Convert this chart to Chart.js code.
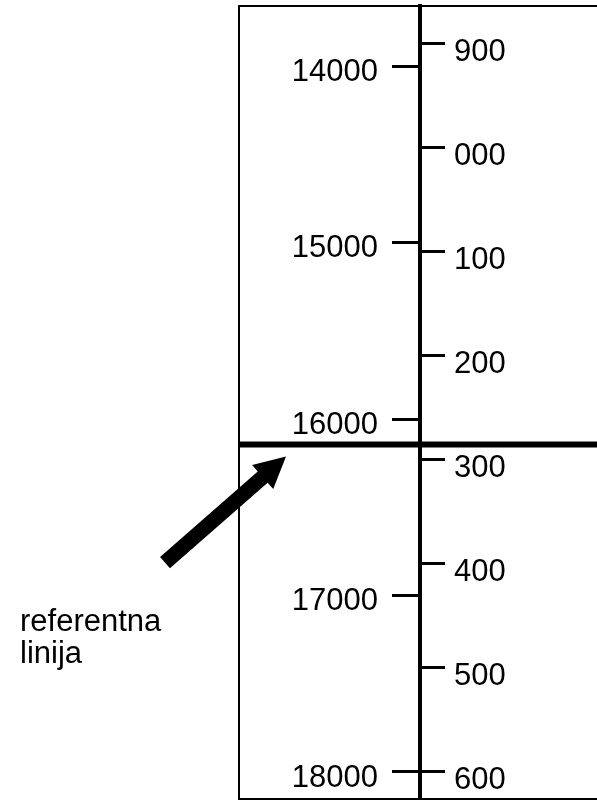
<!DOCTYPE html>
<html><head><meta charset="utf-8">
<script src="https://cdn.jsdelivr.net/npm/chart.js@4/dist/chart.umd.min.js"></script>
<style>html,body{margin:0;padding:0;background:#fff;} canvas{display:block;}</style>
</head><body>
<canvas id="c" width="597" height="801"></canvas>
<script>
// ---- data ----
const LEFT_TICKS = [14000, 15000, 16000, 17000, 18000];
const LEFT_LABELS = ['14000', '15000', '16000', '17000', '18000'];
const RIGHT_TICKS = [900, 1000, 1100, 1200, 1300, 1400, 1500, 1600];
const RIGHT_LABELS = ['900', '000', '100', '200', '300', '400', '500', '600'];
const LEFT_RANGE = [13660, 18153];
const RIGHT_RANGE = [863.5, 1626];
const REFERENCE_VALUE = 16145;          // on the left scale
const NOTE_LINES = ['referentna', 'linija'];

// ---- style ----
const FONT = "'Liberation Sans', Arial, Helvetica, sans-serif";
const FONT_SIZE = 31;
const INK = '#000';

const framePlugin = {
  id: 'frame',
  afterDraw(chart) {
    const ctx = chart.ctx;
    const yL = chart.scales.yL, yR = chart.scales.yR;
    const left = yL.left, right = yR.right, top = yL.top, bottom = yL.bottom;
    ctx.save();
    // outer frame (top, left, bottom)
    ctx.strokeStyle = INK;
    ctx.lineWidth = 2;
    ctx.beginPath();
    ctx.moveTo(right, top); ctx.lineTo(left, top);
    ctx.lineTo(left, bottom); ctx.lineTo(right, bottom);
    ctx.stroke();
    // reference line
    const refY = yL.getPixelForValue(REFERENCE_VALUE);
    ctx.lineWidth = 6;
    ctx.beginPath();
    ctx.moveTo(left, refY); ctx.lineTo(right, refY);
    ctx.stroke();
    // arrow pointing at the reference line
    const tip = {x: left + 47, y: refY + 12};
    const tail = {x: left - 74, y: refY + 118};
    const dx = tip.x - tail.x, dy = tip.y - tail.y, len = Math.hypot(dx, dy);
    const ux = dx / len, uy = dy / len, nx = -uy, ny = ux;
    const headLen = 31, headHalf = 16, shaftHalf = 7.5;
    const bx = tip.x - ux * headLen, by = tip.y - uy * headLen;
    ctx.fillStyle = INK;
    ctx.beginPath();
    ctx.moveTo(tail.x + nx * shaftHalf, tail.y + ny * shaftHalf);
    ctx.lineTo(bx + nx * shaftHalf, by + ny * shaftHalf);
    ctx.lineTo(bx + nx * headHalf, by + ny * headHalf);
    ctx.lineTo(tip.x, tip.y);
    ctx.lineTo(bx - nx * headHalf, by - ny * headHalf);
    ctx.lineTo(bx - nx * shaftHalf, by - ny * shaftHalf);
    ctx.lineTo(tail.x - nx * shaftHalf, tail.y - ny * shaftHalf);
    ctx.closePath();
    ctx.fill();
    // note text
    ctx.font = FONT_SIZE + 'px ' + FONT;
    ctx.textAlign = 'left';
    ctx.textBaseline = 'alphabetic';
    NOTE_LINES.forEach((t, i) => ctx.fillText(t, 20, refY + 186 + i * 32));
    ctx.restore();
  }
};

function axisOptions(position, range, ticks, labels, width, tickLen, pad, offset, border) {
  return {
    type: 'linear',
    position: position,
    reverse: true,
    min: range[0],
    max: range[1],
    afterBuildTicks: s => { s.ticks = ticks.map(v => ({value: v})); },
    afterFit: s => { s.width = width; s.paddingTop = 0; s.paddingBottom = 0; },
    border: {display: border, color: INK, width: 4},
    grid: {drawOnChartArea: false, drawTicks: true, tickLength: tickLen, tickWidth: 3, tickColor: INK, color: INK},
    ticks: {
      autoSkip: false,
      padding: pad,
      labelOffset: offset,
      color: INK,
      font: {family: FONT, size: FONT_SIZE},
      callback: (v, i) => labels[i]
    }
  };
}

new Chart(document.getElementById('c'), {
  type: 'scatter',
  data: {datasets: []},
  options: {
    responsive: false,
    animation: false,
    devicePixelRatio: 1,
    layout: {padding: {left: 239, top: 6, bottom: 2, right: 0}},
    plugins: {legend: {display: false}, tooltip: {enabled: false}, title: {display: false}},
    scales: {
      x: {type: 'linear', display: false, min: 0, max: 1},
      yL: axisOptions('left', LEFT_RANGE, LEFT_TICKS, LEFT_LABELS, 181, 28, 14, 6, true),
      yR: axisOptions('right', RIGHT_RANGE, RIGHT_TICKS, RIGHT_LABELS, 177, 25, 9, 8, false)
    }
  },
  plugins: [framePlugin]
});
</script>
</body></html>
